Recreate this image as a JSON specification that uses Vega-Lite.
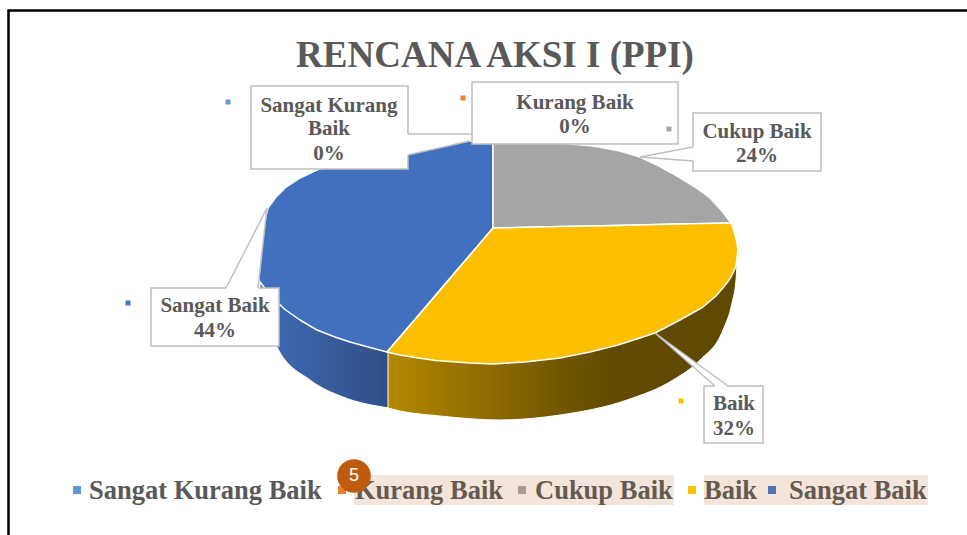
{
"$schema":"https://vega.github.io/schema/vega-lite/v6.json",
"width":967,"height":535,"padding":0,
"autosize":"none",
"background":"white",
"config":{"view":{"stroke":null}},
"datasets":{
"frame":[{"x":8.5,"y":535,"s":1},{"x":8.5,"y":10.5,"s":2},{"x":967,"y":10.5,"s":3}],
"wallBlue":[{"x":260,"y":280,"y2":286},{"x":277,"y":298,"y2":347},{"x":310,"y":320,"y2":380},{"x":343,"y":334,"y2":397},{"x":389,"y":348,"y2":408}],
"wallYellow":[{"x":388,"y":348,"y2":408},{"x":400,"y":351,"y2":411},{"x":440,"y":356,"y2":416},{"x":500,"y":360,"y2":420},{"x":560,"y":354,"y2":415},{"x":627,"y":338,"y2":400},{"x":673,"y":318,"y2":380},{"x":700,"y":302,"y2":360},{"x":723,"y":280,"y2":330},{"x":732,"y":270,"y2":303},{"x":736,"y":262,"y2":280},{"x":737,"y":256,"y2":262}],
"slices":[
{"kategori":"Sangat Baik","x":259,"y":280,"y2":280},{"kategori":"Sangat Baik","x":260,"y":262,"y2":282},{"kategori":"Sangat Baik","x":262,"y":240,"y2":284.5},{"kategori":"Sangat Baik","x":264,"y":224,"y2":287},{"kategori":"Sangat Baik","x":268,"y":208,"y2":292},{"kategori":"Sangat Baik","x":276,"y":197,"y2":301},{"kategori":"Sangat Baik","x":285,"y":188,"y2":309.5},{"kategori":"Sangat Baik","x":300,"y":178,"y2":320},{"kategori":"Sangat Baik","x":317,"y":170,"y2":330},{"kategori":"Sangat Baik","x":335,"y":164,"y2":337},{"kategori":"Sangat Baik","x":350,"y":159,"y2":342},{"kategori":"Sangat Baik","x":370,"y":155,"y2":347.5},{"kategori":"Sangat Baik","x":387,"y":151.5,"y2":352},{"kategori":"Sangat Baik","x":405,"y":149,"y2":331},{"kategori":"Sangat Baik","x":420,"y":146.5,"y2":313.4},{"kategori":"Sangat Baik","x":445,"y":143.5,"y2":284},{"kategori":"Sangat Baik","x":470,"y":141,"y2":255},{"kategori":"Sangat Baik","x":493,"y":140,"y2":228},
{"kategori":"Cukup Baik","x":493,"y":140,"y2":228},{"kategori":"Cukup Baik","x":520,"y":140.5,"y2":227.4},{"kategori":"Cukup Baik","x":560,"y":143,"y2":226.6},{"kategori":"Cukup Baik","x":593,"y":146,"y2":225.9},{"kategori":"Cukup Baik","x":620,"y":151,"y2":225.3},{"kategori":"Cukup Baik","x":640,"y":157,"y2":224.9},{"kategori":"Cukup Baik","x":660,"y":166.5,"y2":224.5},{"kategori":"Cukup Baik","x":677,"y":176,"y2":224.1},{"kategori":"Cukup Baik","x":695,"y":187,"y2":223.8},{"kategori":"Cukup Baik","x":710,"y":198,"y2":223.4},{"kategori":"Cukup Baik","x":722,"y":211,"y2":223.2},{"kategori":"Cukup Baik","x":731,"y":223,"y2":223},
{"kategori":"Baik","x":387,"y":352,"y2":352},{"kategori":"Baik","x":400,"y":337,"y2":355},{"kategori":"Baik","x":418,"y":316,"y2":358},{"kategori":"Baik","x":436,"y":295,"y2":360.5},{"kategori":"Baik","x":470,"y":255,"y2":363},{"kategori":"Baik","x":493,"y":228,"y2":364},{"kategori":"Baik","x":525,"y":227.3,"y2":362},{"kategori":"Baik","x":560,"y":226.6,"y2":358},{"kategori":"Baik","x":590,"y":226,"y2":352},{"kategori":"Baik","x":618,"y":225.4,"y2":345},{"kategori":"Baik","x":640,"y":224.9,"y2":338},{"kategori":"Baik","x":655,"y":224.6,"y2":333},{"kategori":"Baik","x":680,"y":224.1,"y2":320},{"kategori":"Baik","x":703,"y":223.6,"y2":307},{"kategori":"Baik","x":716,"y":223.3,"y2":296},{"kategori":"Baik","x":727,"y":223.1,"y2":283},{"kategori":"Baik","x":731,"y":223,"y2":277},{"kategori":"Baik","x":733,"y":228,"y2":273},{"kategori":"Baik","x":735.7,"y":237,"y2":267},{"kategori":"Baik","x":737,"y":243,"y2":258},{"kategori":"Baik","x":738,"y":250,"y2":250}
],
"boxes":[
{"kategori":"Sangat Kurang Baik","x":251,"x2":408,"y":86,"y2":169},
{"kategori":"Cukup Baik","x":693,"x2":821,"y":113,"y2":171},
{"kategori":"Sangat Baik","x":151,"x2":279,"y":288,"y2":346},
{"kategori":"Baik","x":704,"x2":763,"y":386,"y2":443},
{"kategori":"Kurang Baik","x":472,"x2":678,"y":82,"y2":144}
],
"wedges":[
{"id":"a","x":407,"y":134,"y2":155},{"id":"a","x":471,"y":134,"y2":141},
{"id":"c","x":640,"y":157,"y2":157},{"id":"c","x":694,"y":147,"y2":161},
{"id":"e","x":226,"y":289,"y2":289},{"id":"e","x":258,"y":225.6,"y2":289},{"id":"e","x":267,"y":208,"y2":208},
{"id":"g","x":655,"y":333,"y2":333},{"id":"g","x":715,"y":376.6,"y2":387},{"id":"g","x":728,"y":387,"y2":387}
],
"leaders":[
{"id":"a","s":1,"x":408,"y":134},{"id":"a","s":2,"x":472,"y":134},
{"id":"b","s":1,"x":408,"y":155},{"id":"b","s":2,"x":470,"y":141},
{"id":"c","s":1,"x":693,"y":147},{"id":"c","s":2,"x":640,"y":157},
{"id":"d","s":1,"x":693,"y":161},{"id":"d","s":2,"x":640,"y":157},
{"id":"e","s":1,"x":226,"y":288},{"id":"e","s":2,"x":267,"y":208},
{"id":"f","s":1,"x":258,"y":288},{"id":"f","s":2,"x":267,"y":208},
{"id":"g","s":1,"x":715,"y":386},{"id":"g","s":2,"x":655,"y":333},
{"id":"h","s":1,"x":728,"y":386},{"id":"h","s":2,"x":655,"y":333}
],
"labels":[
{"teks":"Sangat Kurang","x":329,"y":112},{"teks":"Baik","x":329,"y":135},{"teks":"0%","x":329,"y":160},
{"teks":"Kurang Baik","x":575,"y":109},{"teks":"0%","x":575,"y":133},
{"teks":"Cukup Baik","x":757,"y":138},{"teks":"24%","x":757,"y":162},
{"teks":"Sangat Baik","x":215,"y":312},{"teks":"44%","x":215,"y":337},
{"teks":"Baik","x":734,"y":410},{"teks":"32%","x":734,"y":435}
],
"labelKeys":[
{"kategori":"Sangat Kurang Baik","x":228,"y":102},
{"kategori":"Kurang Baik","x":463,"y":98},
{"kategori":"Cukup Baik","x":669,"y":129},
{"kategori":"Baik","x":681,"y":401},
{"kategori":"Sangat Baik","x":128,"y":303}
],
"legendBands":[{"x":354,"x2":674,"y":475,"y2":505},{"x":704,"x2":928,"y":475,"y2":505}],
"legendKeys":[
{"kategori":"Sangat Kurang Baik","x":77,"y":490},
{"kategori":"Kurang Baik","x":342,"y":490},
{"kategori":"Cukup Baik","x":522,"y":490},
{"kategori":"Baik","x":692,"y":490},
{"kategori":"Sangat Baik","x":772,"y":490}
],
"legendText":[
{"kategori":"Sangat Kurang Baik","x":89,"y":499},
{"kategori":"Kurang Baik","x":355,"y":499},
{"kategori":"Cukup Baik","x":535,"y":499},
{"kategori":"Baik","x":704,"y":499},
{"kategori":"Sangat Baik","x":789,"y":499}
],
"title":[{"teks":"RENCANA AKSI I (PPI)","x":495,"y":67}],
"badge":[{"teks":"5","x":354,"y":476}]
},
"encoding":{
"x":{"field":"x","type":"quantitative","axis":null,"scale":{"domain":[0,967],"nice":false,"zero":false}},
"y":{"field":"y","type":"quantitative","axis":null,"stack":null,"scale":{"domain":[535,0],"nice":false,"zero":false}}
},
"layer":[
{"data":{"name":"frame"},"mark":{"type":"line","color":"#000000","strokeWidth":2.5},"encoding":{"order":{"field":"s"}}},
{"data":{"name":"wallBlue"},"mark":{"type":"area","interpolate":"monotone","stroke":"white","strokeWidth":1,"color":{"gradient":"linear","x1":0,"y1":0,"x2":1,"y2":0,"stops":[{"offset":0,"color":"#3f6cb6"},{"offset":1,"color":"#2f4f85"}]}},"encoding":{"y2":{"field":"y2"}}},
{"data":{"name":"wallYellow"},"mark":{"type":"area","interpolate":"monotone","stroke":"white","strokeWidth":1,"color":{"gradient":"linear","x1":0,"y1":0,"x2":1,"y2":0,"stops":[{"offset":0,"color":"#b58800"},{"offset":0.62,"color":"#624a00"},{"offset":1,"color":"#5f4800"}]}},"encoding":{"y2":{"field":"y2"}}},
{"data":{"name":"slices"},"mark":{"type":"area","stroke":"white","strokeWidth":1.5,"strokeJoin":"round"},"encoding":{"y2":{"field":"y2"},"color":{"field":"kategori","type":"nominal","legend":null,"scale":{"domain":["Cukup Baik","Baik","Sangat Baik"],"range":["#a5a5a5","#fcbf00","#4170bf"]}}}},
{"data":{"name":"boxes"},"mark":{"type":"rect","fill":"white","stroke":"#bfbfbf","strokeWidth":1.5},"encoding":{"x2":{"field":"x2"},"y2":{"field":"y2"}}},
{"data":{"name":"wedges"},"mark":{"type":"area","color":"white"},"encoding":{"y2":{"field":"y2"},"detail":{"field":"id"}}},
{"data":{"name":"leaders"},"mark":{"type":"line","color":"#bfbfbf","strokeWidth":1.5},"encoding":{"detail":{"field":"id"},"order":{"field":"s"}}},
{"data":{"name":"labels"},"mark":{"type":"text","font":"Liberation Serif","fontWeight":"bold","fontSize":21,"align":"center","baseline":"alphabetic","color":"#595959"},"encoding":{"text":{"field":"teks"}}},
{"data":{"name":"labelKeys"},"mark":{"type":"square","size":25,"opacity":1},"encoding":{"color":{"field":"kategori","type":"nominal","legend":null,"scale":{"domain":["Sangat Kurang Baik","Kurang Baik","Cukup Baik","Baik","Sangat Baik"],"range":["#5b9bd5","#ed7d31","#a5a5a5","#ffc000","#4472c4"]}}}},
{"data":{"name":"title"},"mark":{"type":"text","font":"Liberation Serif","fontWeight":"bold","fontSize":37,"align":"center","baseline":"alphabetic","color":"#595959"},"encoding":{"text":{"field":"teks"}}},
{"data":{"name":"legendBands"},"mark":{"type":"rect","fill":"#f4e5da"},"encoding":{"x2":{"field":"x2"},"y2":{"field":"y2"}}},
{"data":{"name":"legendKeys"},"mark":{"type":"square","size":64,"opacity":1},"encoding":{"color":{"field":"kategori","type":"nominal","legend":null,"scale":{"domain":["Sangat Kurang Baik","Kurang Baik","Cukup Baik","Baik","Sangat Baik"],"range":["#5b9bd5","#ed7d31","#a99c91","#ffc000","#5470b0"]}}}},
{"data":{"name":"legendText"},"mark":{"type":"text","font":"Liberation Serif","fontWeight":"bold","fontSize":26.5,"align":"left","baseline":"alphabetic"},"encoding":{"text":{"field":"kategori"},"color":{"field":"kategori","type":"nominal","legend":null,"scale":{"domain":["Sangat Kurang Baik","Kurang Baik","Cukup Baik","Baik","Sangat Baik"],"range":["#595959","#655a50","#655a50","#655a50","#655a50"]}}}},
{"data":{"name":"badge"},"mark":{"type":"circle","size":1134,"color":"#bf5b0f","opacity":1}},
{"data":{"name":"badge"},"mark":{"type":"text","font":"Liberation Sans","fontSize":18,"align":"center","baseline":"middle","color":"white"},"encoding":{"text":{"field":"teks"}}}
],
"resolve":{"scale":{"color":"independent"}}
}
